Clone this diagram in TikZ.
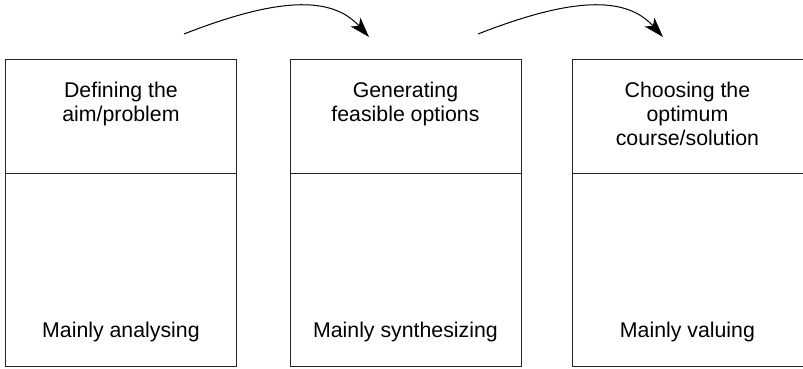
\documentclass[tikz,border=0pt]{standalone}
\usepackage{fontspec}
\setmainfont{Liberation Sans}
\usetikzlibrary{arrows.meta}
\begin{document}
\begin{tikzpicture}[x=1pt,y=-1pt,
  stage/.style={draw=black!85,line width=0.9pt,minimum width=231pt,minimum height=307pt,inner sep=0pt,anchor=north west},
  divider/.style={draw=black!85,line width=0.9pt},
  label/.style={align=center,inner sep=0pt,font=\fontsize{21.3}{24}\selectfont},
  flow/.style={draw=black,line width=1pt,-{Stealth[length=20pt,width=13pt,inset=5pt]}}]
\useasboundingbox (0,0) rectangle (803,369);
% boxes
\node[stage] (b1) at (5,59) {};
\node[stage] (b2) at (289.5,59) {};
\node[stage] (b3) at (571.5,59) {};
% dividers
\foreach \b in {b1,b2,b3}{
  \coordinate (\b dl) at ([yshift=-114pt]\b.north west);
  \coordinate (\b dr) at ([yshift=-114pt]\b.north east);
  \draw[divider] (\b dl) -- (\b dr);
}
% texts
\node[label,anchor=north] (t1) at ([yshift=-22.5pt]b1.north) {Defining the\\aim/problem};
\node[label,anchor=north] (t2) at ([yshift=-22.5pt]b2.north) {Generating\\feasible options};
\node[label,anchor=north] (t3) at ([yshift=-22.5pt]b3.north) {Choosing the\\optimum\\course/solution};
\node[label,anchor=base] (m1) at ([yshift=29pt]b1.south) {Mainly analysing};
\node[label,anchor=base] (m2) at ([yshift=29pt]b2.south) {Mainly synthesizing};
\node[label,anchor=base] (m3) at ([yshift=29pt]b3.south) {Mainly valuing};
% arrows
\coordinate (a1s) at (184,34);
\coordinate (a1e) at (369,37);
\coordinate (a2s) at (478,34);
\coordinate (a2e) at (663,37);
\draw[flow] (a1s) .. controls ([shift={(92,-36)}]a1s) and ([shift={(-38,-42)}]a1e) .. (a1e);
\draw[flow] (a2s) .. controls ([shift={(92,-36)}]a2s) and ([shift={(-38,-42)}]a2e) .. (a2e);
\end{tikzpicture}
\end{document}
